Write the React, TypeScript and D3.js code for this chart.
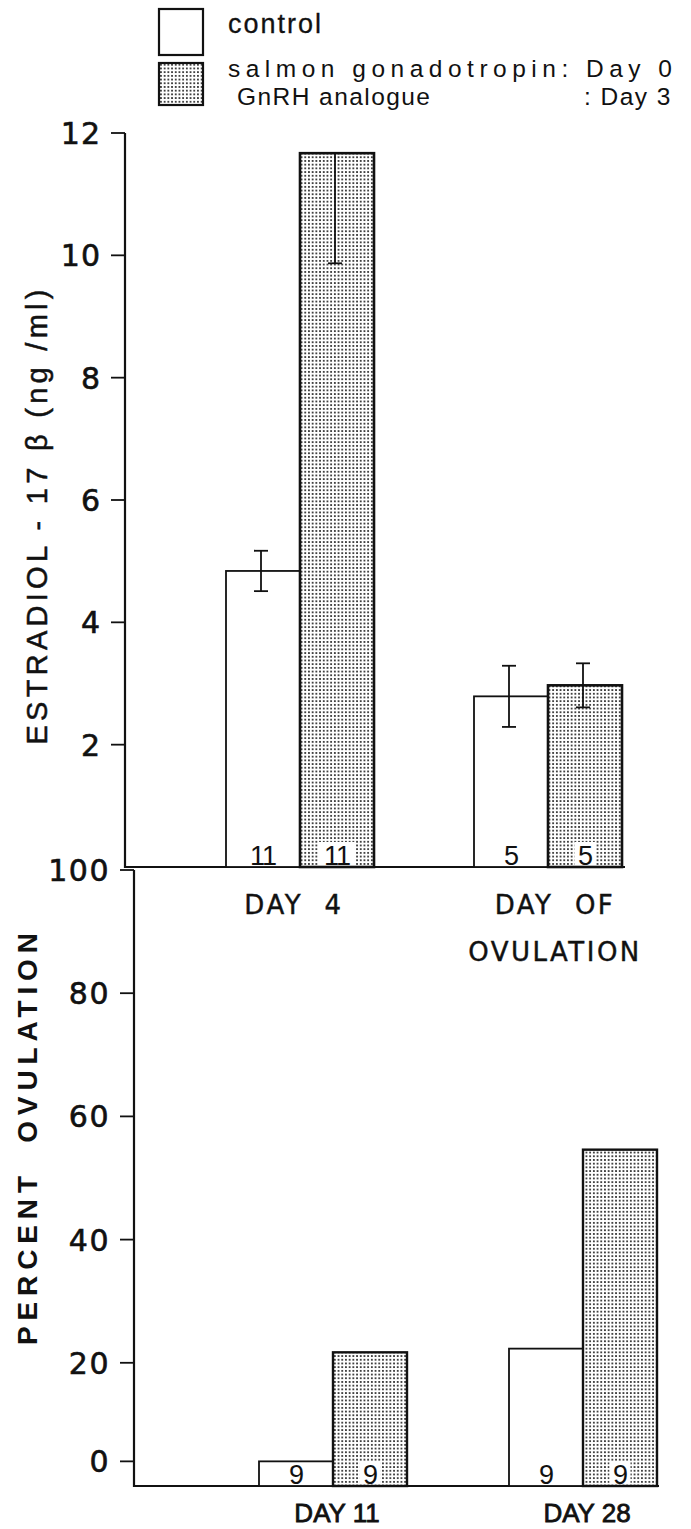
import React from 'react';
import * as d3 from 'd3';

// ---------- data ----------
const seriesNames = ['control', 'salmon gonadotropin: Day 0', 'GnRH analogue', ': Day 3'];

const topCategories = ['DAY 4', 'DAY OF OVULATION'];
const topLabelLines = [['DAY  4'], ['DAY  OF', 'OVULATION']];
const topControl = [4.84, 2.79];
const topControlErr = [0.33, 0.5];
const topTreated = [11.67, 2.97];
const topTreatedErr = [1.8, 0.36];
const topControlN = [11, 5];
const topTreatedN = [11, 5];
const topTicks = [2, 4, 6, 8, 10, 12];

const bottomCategories = ['DAY 11', 'DAY 28'];
const bottomControl = [0, 22.3];
const bottomTreated = [21.7, 54.6];
const bottomControlN = [9, 9];
const bottomTreatedN = [9, 9];
const bottomTicks = [0, 20, 40, 60, 80, 100];
const ZERO_STUB = 4; // a 0 % bar is drawn as a small stub, and the "0" tick sits on it

// ---------- layout ----------
const W = 691;
const H = 1529;
const topAxisX = 125;
const botAxisX = 134;
const barW = 74;

const yTop = d3.scaleLinear().domain([0, 12]).range([867, 133]);
const yBot = d3.scaleLinear().domain([0, 100]).range([1486, 870]);
const xTop = d3.scalePoint<string>().domain(topCategories).range([300, 548]);
const xBot = d3.scalePoint<string>().domain(bottomCategories).range([333, 583]);
const sub = d3.scaleBand<string>().domain(['control', 'treated']).range([-barW, barW]);

const tickFont = "'DejaVu Sans', sans-serif";
const textFont = "'Liberation Sans', Arial, sans-serif";

function ErrorBar({ x, v, e, y, max }: { x: number; v: number; e: number; y: d3.ScaleLinear<number, number>; max: number }) {
  const cap = 7;
  const hi = v + e;
  const lo = v - e;
  const showHi = hi <= max;
  const y1 = showHi ? y(hi) : y(v);
  const y2 = y(lo);
  return (
    <g stroke="#111" strokeWidth={1.8}>
      <line x1={x} x2={x} y1={y1} y2={y2} />
      {showHi && <line x1={x - cap} x2={x + cap} y1={y(hi)} y2={y(hi)} />}
      <line x1={x - cap} x2={x + cap} y1={y2} y2={y2} />
    </g>
  );
}

function NLabel({ x, yBase, n, onPattern }: { x: number; yBase: number; n: number; onPattern: boolean }) {
  const s = String(n);
  const w = s.length * 15 + 6;
  return (
    <g>
      {onPattern && <rect x={x - w / 2} y={yBase - 25} width={w} height={23} fill="#fff" />}
      <text x={x} y={yBase - 2} textAnchor="middle" fontFamily={textFont} fontSize={27} fill="#111" letterSpacing={-1}>
        {s}
      </text>
    </g>
  );
}

export default function App() {
  const topBase = yTop(0);
  const botBase = yBot(0);
  return (
    <svg width={W} height={H} style={{ position: 'absolute', left: 0, top: 0, background: '#fff' }}>
      <defs>
        <pattern id="dots" width={3.7} height={3.7} patternUnits="userSpaceOnUse">
          <rect width={3.7} height={3.7} fill="#fff" />
          <circle cx={1.85} cy={1.85} r={0.9} fill="#000" />
        </pattern>
      </defs>
      <rect width={W} height={H} fill="#fff" />

      {/* legend */}
      <g>
        <rect x={159} y={9} width={44} height={46} fill="#fff" stroke="#111" strokeWidth={2.2} />
        <text x={228} y={33} fontFamily={textFont} fontSize={27} letterSpacing={2} fill="#111" stroke="#111" strokeWidth={0.3}>
          {seriesNames[0]}
        </text>
        <rect x={159} y={63} width={44} height={42} fill="url(#dots)" stroke="#111" strokeWidth={2.2} />
        <text x={228} y={77} fontFamily={textFont} fontSize={24.5} fill="#111" textLength={444} lengthAdjust="spacing">
          {seriesNames[1]}
        </text>
        <text x={237} y={105} fontFamily={textFont} fontSize={24.5} fill="#111" textLength={193} lengthAdjust="spacing">
          {seriesNames[2]}
        </text>
        <text x={672} y={105} textAnchor="end" fontFamily={textFont} fontSize={24.5} fill="#111" letterSpacing={1.5}>
          {seriesNames[3]}
        </text>
      </g>

      {/* ---------- top panel ---------- */}
      <g>
        <line x1={topAxisX} x2={topAxisX} y1={yTop(12)} y2={topBase + 1} stroke="#111" strokeWidth={2.2} />
        <line x1={topAxisX} x2={(xTop(topCategories[1]) as number) + barW + 3} y1={topBase} y2={topBase} stroke="#111" strokeWidth={2} />
        {topTicks.map((t) => (
          <g key={t}>
            <line x1={topAxisX - 14} x2={topAxisX} y1={yTop(t)} y2={yTop(t)} stroke="#111" strokeWidth={1.8} />
            <text
              x={101}
              y={yTop(t) + 11}
              textAnchor="end"
              fontFamily={tickFont}
              fontSize={30}
              letterSpacing={1}
              fill="#111"
              stroke="#111"
              strokeWidth={0.6}
            >
              {t}
            </text>
          </g>
        ))}
        <text
          transform={`translate(47, 517) rotate(-90)`}
          textAnchor="middle"
          fontFamily={textFont}
          fontSize={29}
          fill="#111"
          stroke="#111"
          strokeWidth={0.5}
          textLength={455}
          lengthAdjust="spacing"
        >
          ESTRADIOL - 17 β (ng /ml)
        </text>

        {topCategories.map((c, i) => {
          const cx = xTop(c) as number;
          const xc = cx + (sub('control') as number);
          const xt = cx + (sub('treated') as number);
          return (
            <g key={c}>
              <rect x={xc} y={yTop(topControl[i])} width={barW} height={topBase - yTop(topControl[i])} fill="#fff" stroke="#111" strokeWidth={1.8} />
              <rect x={xt} y={yTop(topTreated[i])} width={barW} height={topBase - yTop(topTreated[i])} fill="url(#dots)" stroke="#111" strokeWidth={2.6} />
              <ErrorBar x={xc + barW / 2 - 2} v={topControl[i]} e={topControlErr[i]} y={yTop} max={12} />
              <ErrorBar x={xt + barW / 2 - 2} v={topTreated[i]} e={topTreatedErr[i]} y={yTop} max={12} />
              <NLabel x={xc + barW / 2} yBase={topBase} n={topControlN[i]} onPattern={false} />
              <NLabel x={xt + barW / 2} yBase={topBase} n={topTreatedN[i]} onPattern={true} />
              {topLabelLines[i].map((l, j) => (
                <text
                  key={j}
                  x={cx + (i === 0 ? -6 : 7)}
                  y={914 + j * 47}
                  textAnchor="middle"
                  fontFamily={tickFont}
                  fontSize={26}
                  letterSpacing={2.5}
                  fill="#111"
                  stroke="#111"
                  strokeWidth={0.4}
                  style={{ whiteSpace: 'pre' }}
                >
                  {l}
                </text>
              ))}
            </g>
          );
        })}
      </g>

      {/* ---------- bottom panel ---------- */}
      <g>
        <line x1={botAxisX} x2={botAxisX} y1={yBot(100)} y2={botBase + 1} stroke="#111" strokeWidth={2.2} />
        <line x1={botAxisX} x2={(xBot(bottomCategories[1]) as number) + barW + 2} y1={botBase} y2={botBase} stroke="#111" strokeWidth={2} />
        {bottomTicks.map((t) => {
          const yy = yBot(t === 0 ? ZERO_STUB : t);
          return (
            <g key={t}>
              <line x1={botAxisX - 14} x2={botAxisX} y1={yy} y2={yy} stroke="#111" strokeWidth={1.8} />
              <text
                x={110}
                y={yy + 11}
                textAnchor="end"
                fontFamily={tickFont}
                fontSize={30}
                letterSpacing={1.5}
                fill="#111"
                stroke="#111"
                strokeWidth={0.6}
              >
                {t}
              </text>
            </g>
          );
        })}
        <text
          transform={`translate(37, 1139) rotate(-90)`}
          textAnchor="middle"
          fontFamily={textFont}
          fontSize={28}
          fontWeight={700}
          fill="#111"
          textLength={412}
          lengthAdjust="spacing"
          style={{ whiteSpace: 'pre' }}
        >
          PERCENT  OVULATION
        </text>

        {bottomCategories.map((c, i) => {
          const cx = xBot(c) as number;
          const xc = cx + (sub('control') as number);
          const xt = cx + (sub('treated') as number);
          const vc = Math.max(bottomControl[i], ZERO_STUB);
          const vt = Math.max(bottomTreated[i], ZERO_STUB);
          return (
            <g key={c}>
              <rect x={xc} y={yBot(vc)} width={barW} height={botBase - yBot(vc)} fill="#fff" stroke="#111" strokeWidth={1.8} />
              <rect x={xt} y={yBot(vt)} width={barW} height={botBase - yBot(vt)} fill="url(#dots)" stroke="#111" strokeWidth={2.4} />
              <NLabel x={xc + barW / 2} yBase={botBase} n={bottomControlN[i]} onPattern={false} />
              <NLabel x={xt + barW / 2} yBase={botBase} n={bottomTreatedN[i]} onPattern={true} />
              <text
                x={cx + 4}
                y={1522}
                textAnchor="middle"
                fontFamily={textFont}
                fontSize={26}
                fill="#111"
                stroke="#111"
                strokeWidth={0.8}
              >
                {c}
              </text>
            </g>
          );
        })}
      </g>
    </svg>
  );
}
